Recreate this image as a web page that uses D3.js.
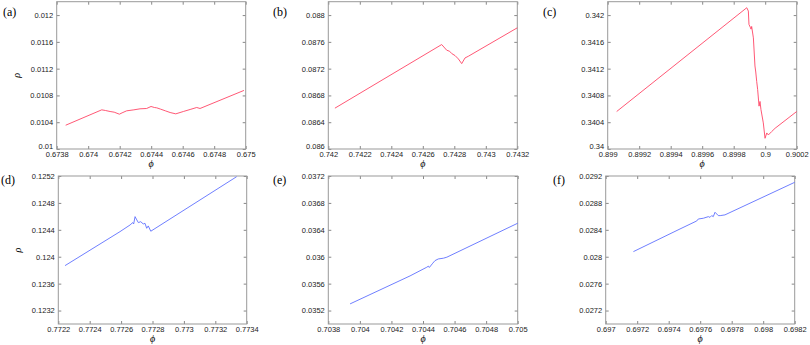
<!DOCTYPE html>
<html>
<head>
<meta charset="utf-8">
<script src="https://cdn.jsdelivr.net/npm/d3@7"></script>
<style>
  body { margin: 0; background: #fff; }
  svg { display: block; }
  .tick text { font-family: "Liberation Sans", Arial, sans-serif; font-size: 7.5px; fill: #222; }
  .tick line { stroke: #888; }
</style>
</head>
<body>
<svg id="chart" width="810" height="345"></svg>
<script>
// panel data (phi, p)
var phiA = [0.673857, 0.674086, 0.674110, 0.674139, 0.674165, 0.674198, 0.674215, 0.674244, 0.674290, 0.674329, 0.674371, 0.674399, 0.674420, 0.674435, 0.674460, 0.674490, 0.674520, 0.674556, 0.674604, 0.674647, 0.674689, 0.674710, 0.674989];
var pA   = [0.010355, 0.010585, 0.010575, 0.010560, 0.010550, 0.010520, 0.010540, 0.010570, 0.010585, 0.010600, 0.010605, 0.010635, 0.010620, 0.010615, 0.010595, 0.010570, 0.010545, 0.010525, 0.010560, 0.010590, 0.010620, 0.010605, 0.010875];

var phiB = [0.742042, 0.742720, 0.742752, 0.742770, 0.742784, 0.742805, 0.742826, 0.742847, 0.742868, 0.742889, 0.7432];
var pB   = [0.08661, 0.08756, 0.087475, 0.08746, 0.087425, 0.087395, 0.087345, 0.087275, 0.08736, 0.087385, 0.08781];

var phiC = [0.899057, 0.899883, 0.899893, 0.899897, 0.899905, 0.899910, 0.899914, 0.899925, 0.899935, 0.899940, 0.899946, 0.899952, 0.899961, 0.899967, 0.899973, 0.899988, 0.899999, 0.900010, 0.900020, 0.900041, 0.900063, 0.9002];
var pC   = [0.34056, 0.34211, 0.34206, 0.34186, 0.34182, 0.34179, 0.34183, 0.34166, 0.34124, 0.34115, 0.34101, 0.34089, 0.34064, 0.34071, 0.34059, 0.34039, 0.34016, 0.34024, 0.34021, 0.34026, 0.34031, 0.34056];

var phiD = [0.772243, 0.772593, 0.772657, 0.772674, 0.772680, 0.772689, 0.772700, 0.772710, 0.772725, 0.772741, 0.772752, 0.772763, 0.772773, 0.772789, 0.773336];
var pD   = [0.123868, 0.124373, 0.124472, 0.124507, 0.124487, 0.124596, 0.124547, 0.124507, 0.124521, 0.124487, 0.124497, 0.124423, 0.124458, 0.124379, 0.12519];

var phiE = [0.703938, 0.704318, 0.704424, 0.704434, 0.704440, 0.704462, 0.704476, 0.704497, 0.704529, 0.704551, 0.705];
var pE   = [0.035299, 0.035715, 0.035844, 0.035860, 0.035840, 0.035904, 0.035942, 0.035967, 0.035978, 0.035993, 0.036498];

var phiF = [0.697176, 0.697472, 0.697578, 0.697588, 0.697620, 0.697652, 0.697662, 0.697673, 0.697683, 0.697694, 0.697715, 0.697727, 0.697757, 0.6982];
var pF   = [0.028076, 0.028413, 0.028532, 0.028561, 0.028572, 0.028596, 0.028585, 0.028611, 0.028596, 0.028661, 0.028611, 0.028611, 0.028622, 0.029106];

// tick labels
var xTicksA = [0.6738, 0.674, 0.6742, 0.6744, 0.6746, 0.6748, 0.675];
var xTicksB = [0.742, 0.7422, 0.7424, 0.7426, 0.7428, 0.743, 0.7432];
var xTicksC = [0.899, 0.8992, 0.8994, 0.8996, 0.8998, 0.9, 0.9002];
var xTicksD = [0.7722, 0.7724, 0.7726, 0.7728, 0.773, 0.7732, 0.7734];
var xTicksE = [0.7038, 0.704, 0.7042, 0.7044, 0.7046, 0.7048, 0.705];
var xTicksF = [0.697, 0.6972, 0.6974, 0.6976, 0.6978, 0.698, 0.6982];
var yTicksA = [0.01, 0.0104, 0.0108, 0.0112, 0.0116, 0.012];
var yTicksB = [0.086, 0.0864, 0.0868, 0.0872, 0.0876, 0.088];
var yTicksC = [0.34, 0.3404, 0.3408, 0.3412, 0.3416, 0.342];
var yTicksD = [0.1232, 0.1236, 0.124, 0.1244, 0.1248, 0.1252];
var yTicksE = [0.0352, 0.0356, 0.036, 0.0364, 0.0368, 0.0372];
var yTicksF = [0.0272, 0.0276, 0.028, 0.0284, 0.0288, 0.0292];

var red = "#ff4565", blue = "#5f70ff";

var panels = [
  {label: "(a)", phi: phiA, p: pA, xd: [0.6738, 0.675], yd: [0.01, 0.0122], xt: xTicksA, yt: yTicksA, color: red,
   box: [56.7, 1.7, 189, 147.3], lab: [3, 16], ylab: true},
  {label: "(b)", phi: phiB, p: pB, xd: [0.742, 0.7432], yd: [0.086, 0.0882], xt: xTicksB, yt: yTicksB, color: red,
   box: [328.3, 1.7, 189, 147.3], lab: [273, 16]},
  {label: "(c)", phi: phiC, p: pC, xd: [0.899, 0.9002], yd: [0.34, 0.3422], xt: xTicksC, yt: yTicksC, color: red,
   box: [607.7, 1.7, 189, 147.3], lab: [543, 16]},
  {label: "(d)", phi: phiD, p: pD, xd: [0.7722, 0.7734], yd: [0.123, 0.1252], xt: xTicksD, yt: yTicksD, color: blue,
   box: [58.3, 176, 188.4, 148], lab: [1, 184], ylab: true},
  {label: "(e)", phi: phiE, p: pE, xd: [0.7038, 0.705], yd: [0.035, 0.0372], xt: xTicksE, yt: yTicksE, color: blue,
   box: [328.3, 176, 189.4, 148], lab: [273, 184]},
  {label: "(f)", phi: phiF, p: pF, xd: [0.697, 0.6982], yd: [0.027, 0.0292], xt: xTicksF, yt: yTicksF, color: blue,
   box: [605.7, 176, 189, 148], lab: [553, 184]}
];

var svg = d3.select("#chart");
var fmt = function(v) { return String(+v.toFixed(6)); };

panels.forEach(function(P) {
  var bx = P.box[0], by = P.box[1], bw = P.box[2], bh = P.box[3];
  var x = d3.scaleLinear().domain(P.xd).range([0, bw]);
  var y = d3.scaleLinear().domain(P.yd).range([bh, 0]);

  var g = svg.append("g").attr("transform", "translate(" + bx + "," + by + ")");

  // ticks on all four sides, pointing inward
  g.append("g").attr("transform", "translate(0," + bh + ")")
    .call(d3.axisBottom(x).tickValues(P.xt).tickFormat(fmt).tickSizeInner(-3).tickSizeOuter(0).tickPadding(2.5));
  g.append("g")
    .call(d3.axisTop(x).tickValues(P.xt).tickFormat("").tickSizeInner(-3).tickSizeOuter(0));
  var yAxis = g.append("g")
    .call(d3.axisLeft(y).tickValues(P.yt).tickFormat(fmt).tickSizeInner(-3).tickSizeOuter(0).tickPadding(3.5));
  // lowest label sits on the corner, lift it a touch off the x labels
  yAxis.selectAll(".tick text").filter(function(d) { return y(d) > bh - 2; }).attr("dy", "-0.05em");
  g.append("g").attr("transform", "translate(" + bw + ",0)")
    .call(d3.axisRight(y).tickValues(P.yt).tickFormat("").tickSizeInner(-3).tickSizeOuter(0));
  g.selectAll(".domain").remove();

  g.append("rect")
    .attr("width", bw).attr("height", bh)
    .attr("fill", "none").attr("stroke", "#999").attr("stroke-width", 1);

  var line = d3.line()
    .x(function(d) { return x(d[0]); })
    .y(function(d) { return y(d[1]); });

  g.append("path")
    .datum(P.phi.map(function(v, i) { return [v, P.p[i]]; }))
    .attr("d", line)
    .attr("fill", "none")
    .attr("stroke", P.color)
    .attr("stroke-width", 0.9)
    .attr("stroke-linejoin", "round");

  // x label
  g.append("text")
    .attr("x", bw / 2).attr("y", bh + 18)
    .attr("text-anchor", "middle")
    .style("font-family", "'Liberation Serif', 'DejaVu Serif', serif")
    .style("font-style", "italic")
    .style("font-size", "10px")
    .text("ϕ");

  if (P.ylab) {
    g.append("text")
      .attr("transform", "translate(" + (-37) + "," + (bh / 2) + ") rotate(-90)")
      .attr("text-anchor", "middle")
      .style("font-family", "'Liberation Serif', 'DejaVu Serif', serif")
      .style("font-style", "italic")
      .style("font-size", "10px")
      .text("ρ");
  }

  svg.append("text")
    .attr("x", P.lab[0]).attr("y", P.lab[1])
    .style("font-family", "'Liberation Serif', 'DejaVu Serif', serif")
    .style("font-size", "12px")
    .text(P.label);
});
</script>
</body>
</html>
